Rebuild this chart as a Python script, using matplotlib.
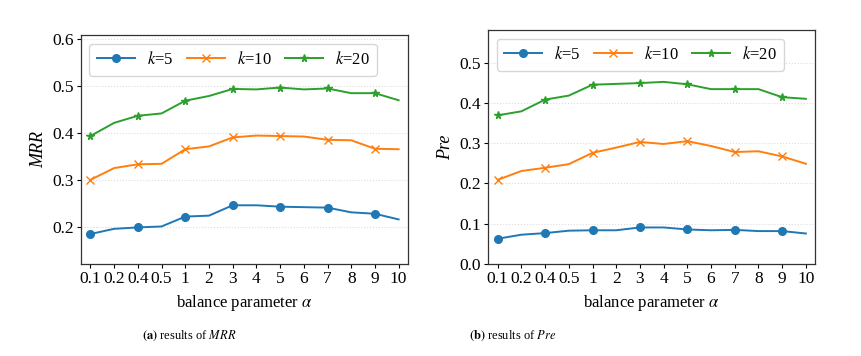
import numpy as np
import matplotlib
matplotlib.use('Agg')
import matplotlib.pyplot as plt

plt.rcParams['font.family'] = ['Liberation Serif', 'DejaVu Serif']
plt.rcParams['mathtext.fontset'] = 'stix'

alphas = ['0.1', '0.2', '0.4', '0.5', '1', '2', '3', '4', '5', '6', '7', '8', '9', '10']

mrr_k5 = [0.185, 0.196, 0.199, 0.201, 0.222, 0.224, 0.246, 0.246, 0.243, 0.242, 0.241, 0.231, 0.228, 0.216]
mrr_k10 = [0.300, 0.325, 0.333, 0.334, 0.365, 0.371, 0.390, 0.394, 0.393, 0.392, 0.385, 0.384, 0.366, 0.365]
mrr_k20 = [0.393, 0.421, 0.436, 0.441, 0.468, 0.478, 0.493, 0.492, 0.496, 0.492, 0.494, 0.484, 0.484, 0.469]

pre_k5 = [0.063, 0.073, 0.077, 0.083, 0.084, 0.084, 0.091, 0.091, 0.086, 0.084, 0.085, 0.082, 0.082, 0.076]
pre_k10 = [0.209, 0.231, 0.239, 0.248, 0.276, 0.289, 0.303, 0.298, 0.305, 0.293, 0.278, 0.280, 0.267, 0.249]
pre_k20 = [0.369, 0.379, 0.408, 0.418, 0.445, 0.447, 0.449, 0.452, 0.446, 0.434, 0.434, 0.434, 0.414, 0.410]

labels = ['$k$=5', '$k$=10', '$k$=20']
markers = ['o', 'x', '*']
colors = ['#1f77b4', '#ff7f0e', '#2ca02c']

fig = plt.figure(figsize=(8.61, 3.56), dpi=100)
ax1 = fig.add_axes([0.094, 0.258, 0.380, 0.643])
ax2 = fig.add_axes([0.567, 0.258, 0.380, 0.657])

x = np.arange(len(alphas))


def draw(ax, series, ylabel, ylim, yticks):
    for ys, lab, m, c in zip(series, labels, markers, colors):
        ax.plot(x, ys, color=c, marker=m, markevery=2, markersize=5.5, linewidth=1.4, label=lab)
    ax.set_xticks(x)
    ax.set_xticklabels(alphas, fontsize=12.5)
    ax.set_xlim(-0.4, len(alphas) - 0.6)
    ax.set_ylim(*ylim)
    ax.set_yticks(yticks)
    ax.set_yticklabels(['%.1f' % t for t in yticks], fontsize=12.5)
    ax.yaxis.grid(True, linestyle=':', color='#dddddd', linewidth=0.8)
    ax.set_axisbelow(True)
    ax.set_xlabel(r'balance parameter $\alpha$', fontsize=12)
    ax.set_ylabel(ylabel, fontsize=13, style='italic')
    ax.tick_params(length=3, width=0.8, pad=2)
    for s in ax.spines.values():
        s.set_color('#333333')
        s.set_linewidth(0.9)
    ax.legend(loc='upper left', ncol=3, fontsize=12, handlelength=2.3,
              columnspacing=0.8, handletextpad=0.7, borderpad=0.45,
              framealpha=0.8, edgecolor='#cccccc')


draw(ax1, [mrr_k5, mrr_k10, mrr_k20], 'MRR', (0.121, 0.607), [0.2, 0.3, 0.4, 0.5, 0.6])
draw(ax2, [pre_k5, pre_k10, pre_k20], 'Pre', (0.0, 0.58), [0.0, 0.1, 0.2, 0.3, 0.4, 0.5])

fig.text(189 / 861, 1 - 336 / 356, r'$\mathbf{(a)}$ results of $\mathit{MRR}$', ha='center', va='center', fontsize=9)
fig.text(513 / 861, 1 - 336 / 356, r'$\mathbf{(b)}$ results of $\mathit{Pre}$', ha='center', va='center', fontsize=9)

plt.savefig('out.png', dpi=100)
